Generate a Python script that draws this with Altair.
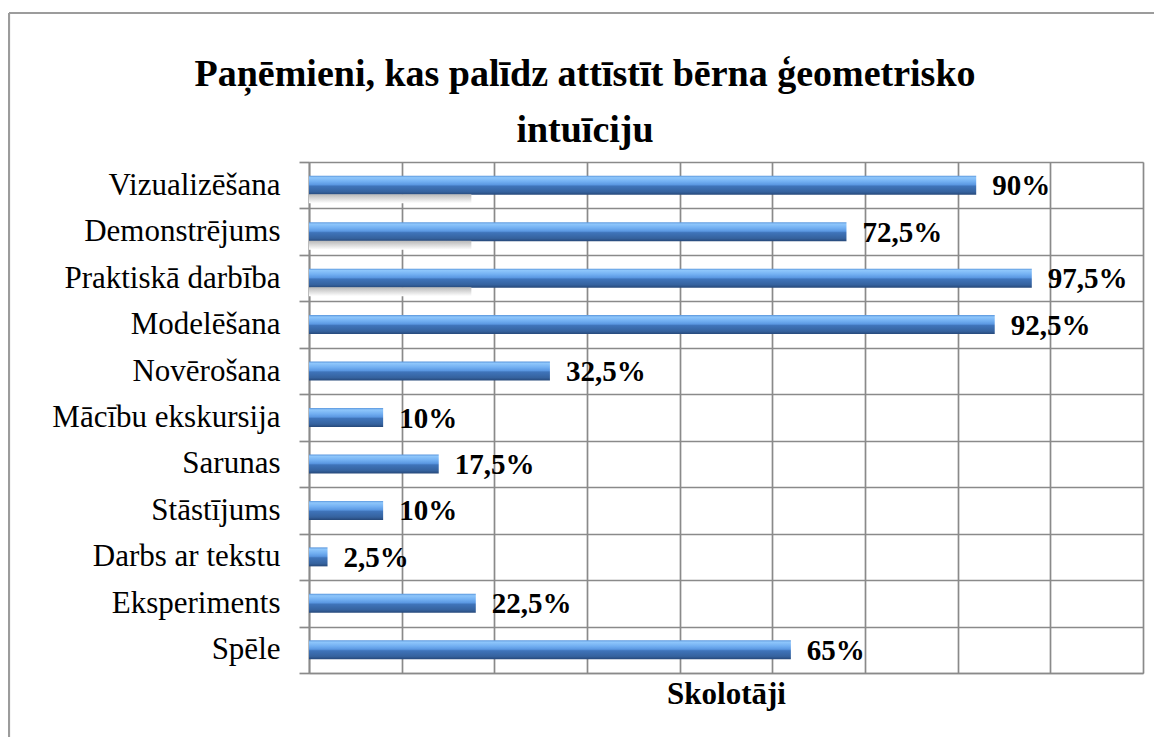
import altair as alt
import pandas as pd

categories = [
    "Vizualizēšana\u00a0",
    "Demonstrējums\u00a0",
    "Praktiskā darbība",
    "Modelēšana\u00a0",
    "Novērošana",
    "Mācību ekskursija",
    "Sarunas",
    "Stāstījums",
    "Darbs ar tekstu",
    "Eksperiments",
    "Spēle",
]
values = [90, 72.5, 97.5, 92.5, 32.5, 10, 17.5, 10, 2.5, 22.5, 65]
value_labels = ["90%", "72,5%", "97,5%", "92,5%", "32,5%", "10%", "17,5%", "10%", "2,5%", "22,5%", "65%"]
x_ticks = [0, 12.5, 25, 37.5, 50, 62.5, 75, 87.5, 100, 112.5]

# faint grey smear visible under the first three bars in the reference
shadow_categories = categories[:3]
shadow_values = [21.9, 21.9, 21.9]

title_line1 = "Paņēmieni, kas palīdz attīstīt bērna ģeometrisko"
title_line2 = "intuīciju"
x_title = "Skolotāji"

df = pd.DataFrame({"cat": categories, "val": values, "lab": value_labels})
shadow_df = pd.DataFrame({"cat": shadow_categories, "val": shadow_values})
one_df = pd.DataFrame({"k": [0]})
t1_df = pd.DataFrame({"t": [title_line1]})
t2_df = pd.DataFrame({"t": [title_line2]})

SERIF = "'Times New Roman', 'Liberation Serif', Tinos, 'DejaVu Serif', serif"
GRID = "#8a8a8a"

y_axis = alt.Axis(
    title=None,
    tickBand="extent",
    grid=True,
    gridColor=GRID,
    gridWidth=1.7,
    ticks=True,
    tickSize=10,
    tickColor=GRID,
    tickWidth=1.7,
    domain=True,
    domainColor=GRID,
    domainWidth=1.7,
    labelFont=SERIF,
    labelFontSize=31,
    labelColor="black",
    labelPadding=19,
    labelLimit=400,
)
y_enc = alt.Y("cat:N", sort=categories, scale=alt.Scale(paddingInner=0, paddingOuter=0), axis=y_axis)

x_axis = alt.Axis(
    values=x_ticks,
    labels=False,
    ticks=False,
    grid=True,
    gridColor=GRID,
    gridWidth=1.7,
    domain=True,
    domainColor=GRID,
    domainWidth=1.7,
    title=x_title,
    titleFont=SERIF,
    titleFontSize=31,
    titleFontWeight="bold",
    titleColor="black",
    titlePadding=6,
)
x_enc = alt.X("val:Q", scale=alt.Scale(domain=[0, 112.5], nice=False, zero=True), axis=x_axis)

bar_gradient = alt.Gradient(
    gradient="linear",
    x1=0, y1=0, x2=0, y2=1,
    stops=[
        alt.GradientStop(offset=0.0, color="#5a96dc"),
        alt.GradientStop(offset=0.1, color="#8ec6fb"),
        alt.GradientStop(offset=0.3, color="#73b0f2"),
        alt.GradientStop(offset=0.47, color="#5b98e2"),
        alt.GradientStop(offset=0.55, color="#3f74ba"),
        alt.GradientStop(offset=0.85, color="#35629e"),
        alt.GradientStop(offset=1.0, color="#264879"),
    ],
)

shadow_gradient = alt.Gradient(
    gradient="linear",
    x1=0, y1=0, x2=0, y2=1,
    stops=[
        alt.GradientStop(offset=0.0, color="#b8b8b8"),
        alt.GradientStop(offset=1.0, color="#ffffff"),
    ],
)

bars = alt.Chart(df).mark_bar(height=19, color=bar_gradient).encode(y=y_enc, x=x_enc)

shadow = alt.Chart(shadow_df).mark_bar(height=9, yOffset=13.5, color=shadow_gradient).encode(
    y=y_enc, x=x_enc
)

labels = alt.Chart(df).mark_text(
    align="left", baseline="middle", dx=16, dy=1,
    font=SERIF, fontSize=29, fontWeight="bold", color="black",
).encode(y=y_enc, x=x_enc, text="lab:N")

title1 = alt.Chart(t1_df).mark_text(
    align="center", baseline="alphabetic", font=SERIF, fontSize=38, fontWeight="bold", color="black"
).encode(x=alt.value(276), y=alt.value(-76), text="t:N")
title2 = alt.Chart(t2_df).mark_text(
    align="center", baseline="alphabetic", font=SERIF, fontSize=38, fontWeight="bold", color="black"
).encode(x=alt.value(276), y=alt.value(-20), text="t:N")

frame_left = alt.Chart(one_df).mark_rule(color="#9c9c9c", strokeWidth=2.2).encode(
    x=alt.value(-300), y=alt.value(-149), y2=alt.value(575)
)
frame_top = alt.Chart(one_df).mark_rule(color="#9c9c9c", strokeWidth=2.2).encode(
    x=alt.value(-300), x2=alt.value(845), y=alt.value(-149)
)

chart = (
    alt.layer(bars, shadow, labels, title1, title2, frame_left, frame_top)
    .properties(
        width=834,
        height=511,
        autosize=alt.AutoSizeParams(type="none"),
        padding={"left": 301, "top": 154, "right": 11, "bottom": 64},
    )
    .configure_view(stroke=None)
    .configure_axis(labelFont=SERIF, titleFont=SERIF)
    .configure(background="white", font=SERIF)
)

chart.save("out.html", embed_options={"renderer": "svg", "actions": False})
